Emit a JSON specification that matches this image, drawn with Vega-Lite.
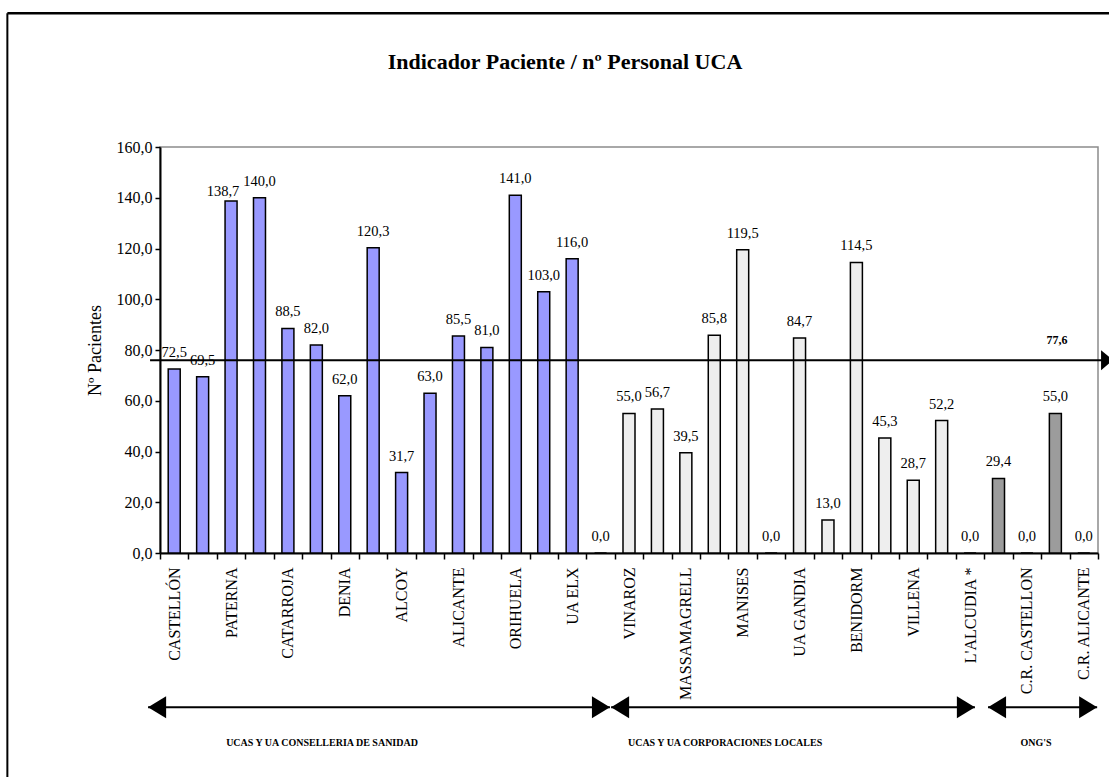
{
  "$schema": "https://vega.github.io/schema/vega-lite/v6.json",
  "width": 938,
  "height": 406,
  "autosize": {"type": "none"},
  "padding": {"left": 160, "top": 147, "right": 11, "bottom": 224},
  "background": "white",
  "config": {
    "locale": {"number": {"decimal": ",", "thousands": ".", "grouping": [3], "currency": ["", " €"]}},
    "font": "Liberation Serif",
    "view": {"stroke": "#8c8c8c", "strokeWidth": 1.5}
  },
  "title": {
    "text": "Indicador  Paciente / nº Personal UCA",
    "font": "Liberation Serif",
    "fontSize": 22,
    "fontWeight": "bold",
    "color": "black",
    "anchor": "middle",
    "dx": -64,
    "offset": -62
  },
  "datasets": {
    "centros": [
      {"centro": "CASTELLÓN", "valor": 72.5, "grupo": "Conselleria"},
      {"centro": "#1", "valor": 69.5, "grupo": "Conselleria"},
      {"centro": "PATERNA", "valor": 138.7, "grupo": "Conselleria"},
      {"centro": "#3", "valor": 140.0, "grupo": "Conselleria"},
      {"centro": "CATARROJA", "valor": 88.5, "grupo": "Conselleria"},
      {"centro": "#5", "valor": 82.0, "grupo": "Conselleria"},
      {"centro": "DENIA", "valor": 62.0, "grupo": "Conselleria"},
      {"centro": "#7", "valor": 120.3, "grupo": "Conselleria"},
      {"centro": "ALCOY", "valor": 31.7, "grupo": "Conselleria"},
      {"centro": "#9", "valor": 63.0, "grupo": "Conselleria"},
      {"centro": "ALICANTE", "valor": 85.5, "grupo": "Conselleria"},
      {"centro": "#11", "valor": 81.0, "grupo": "Conselleria"},
      {"centro": "ORIHUELA", "valor": 141.0, "grupo": "Conselleria"},
      {"centro": "#13", "valor": 103.0, "grupo": "Conselleria"},
      {"centro": "UA ELX", "valor": 116.0, "grupo": "Conselleria"},
      {"centro": "#15", "valor": 0.0, "grupo": "Conselleria"},
      {"centro": "VINAROZ", "valor": 55.0, "grupo": "Corporaciones"},
      {"centro": "#17", "valor": 56.7, "grupo": "Corporaciones"},
      {"centro": "MASSAMAGRELL", "valor": 39.5, "grupo": "Corporaciones"},
      {"centro": "#19", "valor": 85.8, "grupo": "Corporaciones"},
      {"centro": "MANISES", "valor": 119.5, "grupo": "Corporaciones"},
      {"centro": "#21", "valor": 0.0, "grupo": "Corporaciones"},
      {"centro": "UA GANDIA", "valor": 84.7, "grupo": "Corporaciones"},
      {"centro": "#23", "valor": 13.0, "grupo": "Corporaciones"},
      {"centro": "BENIDORM", "valor": 114.5, "grupo": "Corporaciones"},
      {"centro": "#25", "valor": 45.3, "grupo": "Corporaciones"},
      {"centro": "VILLENA", "valor": 28.7, "grupo": "Corporaciones"},
      {"centro": "#27", "valor": 52.2, "grupo": "Corporaciones"},
      {"centro": "L'ALCUDIA *", "valor": 0.0, "grupo": "Corporaciones"},
      {"centro": "#29", "valor": 29.4, "grupo": "ONG"},
      {"centro": "C.R. CASTELLON", "valor": 0.0, "grupo": "ONG"},
      {"centro": "#31", "valor": 55.0, "grupo": "ONG"},
      {"centro": "C.R. ALICANTE", "valor": 0.0, "grupo": "ONG"}
    ],
    "grupos": [
      {"grupo": "UCAS Y UA CONSELLERIA DE SANIDAD", "inicio": -0.42, "fin": 15.83, "pos_etiqueta": 5.7},
      {"grupo": "UCAS Y UA CORPORACIONES LOCALES", "inicio": 15.87, "fin": 28.67, "pos_etiqueta": 19.88},
      {"grupo": "ONG'S", "inicio": 29.13, "fin": 32.97, "pos_etiqueta": 30.82}
    ],
    "media": [
      {"etiqueta": "77,6", "media": 76.0}
    ]
  },
  "layer": [
    {
      "data": {"name": "centros"},
      "encoding": {
        "x": {
          "field": "centro",
          "type": "nominal",
          "sort": null,
          "scale": {"paddingInner": 0, "paddingOuter": 0},
          "axis": {
            "title": null,
            "labelAngle": 270,
            "labelFontSize": 16,
            "labelColor": "black",
            "labelPadding": 8,
            "labelLimit": 220,
            "tickSize": 6,
            "tickColor": "black",
            "tickWidth": 1.5,
            "domainColor": "black",
            "domainWidth": 2,
            "tickBand": "extent",
            "labelExpr": "indexof(datum.label, '#') == 0 ? '' : datum.label"
          }
        },
        "y": {
          "field": "valor",
          "type": "quantitative",
          "scale": {"domain": [0, 160], "nice": false},
          "axis": {
            "title": "Nº Pacientes",
            "values": [0, 20, 40, 60, 80, 100, 120, 140, 160],
            "format": ".1f",
            "grid": false,
            "labelFontSize": 16,
            "labelColor": "black",
            "labelPadding": 3,
            "tickSize": 5,
            "tickColor": "black",
            "tickWidth": 1.5,
            "domainColor": "black",
            "domainWidth": 2,
            "titleFontSize": 18,
            "titleFontWeight": "normal",
            "titleColor": "black",
            "titlePadding": 12
          }
        }
      },
      "layer": [
        {
          "mark": {"type": "bar", "width": 12, "stroke": "black", "strokeWidth": 1.5},
          "encoding": {
            "color": {
              "field": "grupo",
              "type": "nominal",
              "scale": {"domain": ["Conselleria", "Corporaciones", "ONG"], "range": ["#9999FF", "#EEEEEE", "#9C9C9C"]},
              "legend": null
            }
          }
        },
        {
          "transform": [{"filter": "datum.centro != 'PATERNA'"}],
          "mark": {"type": "text", "baseline": "alphabetic", "dy": -12, "fontSize": 14.5, "color": "black"},
          "encoding": {
            "text": {"field": "valor", "type": "quantitative", "format": ".1f"}
          }
        },
        {
          "transform": [{"filter": "datum.centro == 'PATERNA'"}],
          "mark": {"type": "text", "baseline": "alphabetic", "dy": -5, "dx": -8, "fontSize": 14.5, "color": "black"},
          "encoding": {
            "text": {"field": "valor", "type": "quantitative", "format": ".1f"}
          }
        }
      ]
    },
    {
      "layer": [
        {
          "data": {"values": [{}]},
          "mark": {"type": "rule", "color": "black", "strokeWidth": 2},
          "encoding": {
            "x": {"datum": -5.37, "type": "quantitative", "scale": {"domain": [0, 33], "nice": false, "zero": false}, "axis": null},
            "y": {"datum": 212.7, "type": "quantitative"},
            "y2": {"datum": -95}
          }
        },
        {
          "data": {"values": [{}]},
          "mark": {"type": "rule", "color": "black", "strokeWidth": 2.5},
          "encoding": {
            "x": {"datum": -5.37, "type": "quantitative", "scale": {"domain": [0, 33], "nice": false, "zero": false}, "axis": null},
            "x2": {"datum": 40},
            "y": {"datum": 212.7, "type": "quantitative"}
          }
        },
        {
          "data": {"name": "media"},
          "mark": {"type": "rule", "color": "black", "strokeWidth": 2},
          "encoding": {
            "x": {"datum": -0.35, "type": "quantitative", "scale": {"domain": [0, 33], "nice": false, "zero": false}, "axis": null},
            "x2": {"datum": 33.3},
            "y": {"field": "media", "type": "quantitative"}
          }
        },
        {
          "data": {"name": "media"},
          "mark": {"type": "point", "shape": "M0,0L-1.2,-1L-1.2,1Z", "size": 400, "filled": true, "color": "black", "opacity": 1, "strokeWidth": 0},
          "encoding": {
            "x": {"datum": 33.53, "type": "quantitative", "scale": {"domain": [0, 33], "nice": false, "zero": false}, "axis": null},
            "y": {"field": "media", "type": "quantitative"}
          }
        },
        {
          "data": {"name": "media"},
          "mark": {"type": "text", "fontSize": 12, "fontWeight": "bold", "color": "black", "baseline": "middle", "dy": -20},
          "encoding": {
            "x": {"datum": 31.56, "type": "quantitative", "scale": {"domain": [0, 33], "nice": false, "zero": false}, "axis": null},
            "y": {"field": "media", "type": "quantitative"},
            "text": {"field": "etiqueta"}
          }
        },
        {
          "data": {"name": "grupos"},
          "mark": {"type": "rule", "color": "black", "strokeWidth": 2},
          "encoding": {
            "x": {"field": "inicio", "type": "quantitative", "scale": {"domain": [0, 33], "nice": false, "zero": false}, "axis": null},
            "x2": {"field": "fin"},
            "y": {"datum": -60.8, "type": "quantitative"}
          }
        },
        {
          "data": {"name": "grupos"},
          "mark": {"type": "point", "shape": "M0,0L1.64,-1L1.64,1Z", "size": 484, "filled": true, "color": "black", "opacity": 1, "strokeWidth": 0},
          "encoding": {
            "x": {"field": "inicio", "type": "quantitative", "scale": {"domain": [0, 33], "nice": false, "zero": false}, "axis": null},
            "y": {"datum": -60.8, "type": "quantitative"}
          }
        },
        {
          "data": {"name": "grupos"},
          "mark": {"type": "point", "shape": "M0,0L-1.64,-1L-1.64,1Z", "size": 484, "filled": true, "color": "black", "opacity": 1, "strokeWidth": 0},
          "encoding": {
            "x": {"field": "fin", "type": "quantitative", "scale": {"domain": [0, 33], "nice": false, "zero": false}, "axis": null},
            "y": {"datum": -60.8, "type": "quantitative"}
          }
        },
        {
          "data": {"name": "grupos"},
          "mark": {"type": "text", "fontSize": 10, "fontWeight": "bold", "color": "black", "baseline": "middle", "align": "center"},
          "encoding": {
            "x": {"field": "pos_etiqueta", "type": "quantitative", "scale": {"domain": [0, 33], "nice": false, "zero": false}, "axis": null},
            "y": {"datum": -74.7, "type": "quantitative"},
            "text": {"field": "grupo"}
          }
        }
      ]
    }
  ],
  "resolve": {"scale": {"x": "independent"}}
}
